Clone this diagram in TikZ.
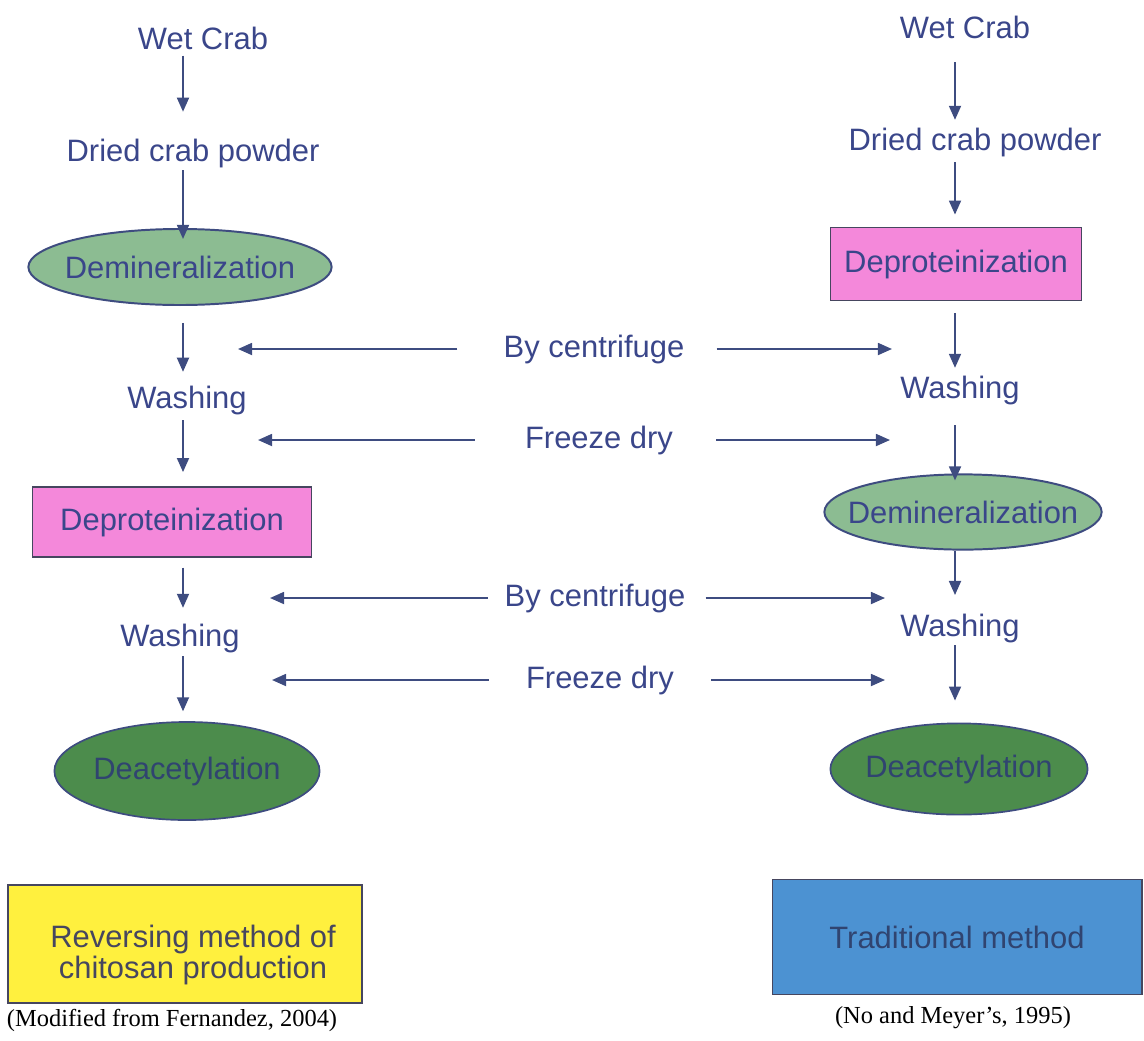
\documentclass[tikz,border=0pt]{standalone}
\usepackage{fontspec}
\setmainfont{Liberation Sans}
\newfontfamily\capfont{Liberation Serif}
\usepackage{xcolor}
\usetikzlibrary{arrows.meta}
\usetikzlibrary{shapes.geometric}
\usetikzlibrary{positioning}

\definecolor{inkblue}{RGB}{58,70,138}
\definecolor{arrowblue}{RGB}{62,76,128}
\definecolor{deepink}{RGB}{48,68,112}
\definecolor{palegreen}{RGB}{140,188,146}
\definecolor{darkgreen}{RGB}{76,140,76}
\definecolor{rosepink}{RGB}{244,136,218}
\definecolor{boxyellow}{RGB}{255,240,62}
\definecolor{boxblue}{RGB}{76,146,210}
\definecolor{rimgrey}{RGB}{70,70,95}

\tikzset{
  stage/.style={font=\fontsize{22}{26}\selectfont, text=inkblue, inner sep=0pt, anchor=base},
  demin/.style={ellipse, draw=arrowblue, line width=1.4pt, fill=palegreen,
    font=\fontsize{22}{26}\selectfont, text=inkblue, inner ysep=0pt, inner xsep=-20pt},
  deprot/.style={rectangle, draw=rimgrey, line width=1.2pt, fill=rosepink,
    font=\fontsize{22}{26}\selectfont, text=inkblue, inner sep=0pt},
  deacet/.style={ellipse, draw=arrowblue, line width=1.2pt, fill=darkgreen,
    font=\fontsize{22}{26}\selectfont, text=deepink, inner ysep=0pt, inner xsep=-20pt},
  legend/.style={rectangle, draw=rimgrey, line width=1.2pt, inner sep=0pt},
  legtext/.style={font=\fontsize{22}{21.5}\selectfont, align=center, inner sep=0pt},
  source/.style={font=\capfont\fontsize{17.4}{20}\selectfont, inner sep=0pt},
  flow/.style={draw=arrowblue, line width=1.4pt, -{Triangle[length=10pt,width=8.5pt]}}
}

\begin{document}
\begin{tikzpicture}[x=0.025cm, y=-0.025cm]
  \useasboundingbox (0,0) rectangle (1144,1040);

  % Column axes
  \coordinate (lx) at (183,0);
  \coordinate (rx) at (955,0);

  % Reversing method (left)
  \node[stage] (lwet) at (203,49) {Wet Crab};
  \node[stage] (ldry) at (193,161) {Dried crab powder};
  \node[demin, minimum width=7.58cm, minimum height=1.9cm] (ldem) at (180,267) {Demineralization};
  \node[stage] (lwash1) at (187,408) {Washing};
  \node[deprot, minimum width=6.98cm, minimum height=1.75cm] (ldep) at (172,522) {Deproteinization};
  \node[stage] (lwash2) at (180,646) {Washing};
  \node[deacet, minimum width=6.63cm, minimum height=2.45cm] (ldeac) at (187,771) {Deacetylation};

  % Traditional method (right)
  \node[stage] (rwet) at (965,38) {Wet Crab};
  \node[stage] (rdry) at (975,150) {Dried crab powder};
  \node[deprot, minimum width=6.28cm, minimum height=1.83cm] (rdep) at (956,264) {Deproteinization};
  \node[stage] (rwash1) at (960,398) {Washing};
  \node[demin, minimum width=6.93cm, minimum height=1.88cm] (rdem) at (963,512) {Demineralization};
  \node[stage] (rwash2) at (960,636) {Washing};
  \node[deacet, minimum width=6.43cm, minimum height=2.28cm] (rdeac) at (959,769) {Deacetylation};

  % Vertical arrows
  \foreach \a/\b/\s/\e in {lwet/ldry/4.3/18.9, ldry/ldem/1.8/-7.8, ldem/lwash1/12/9.6,
      lwash1/ldep/4/10, ldep/lwash2/7/11, lwash2/ldeac/2.5/7}
    \draw[flow, shorten <=\s pt, shorten >=\e pt] (\a.south -| lx) -- (\b.north -| lx);
  \foreach \a/\b/\s/\e in {rwet/rdry/17/5.3, rdry/rdep/4/8.5, rdep/rwash1/8.5/5.3,
      rwash1/rdem/14.6/-5, rdem/rwash2/0/13, rwash2/rdeac/1.8/15.6}
    \draw[flow, shorten <=\s pt, shorten >=\e pt] (\a.south -| rx) -- (\b.north -| rx);

  % Shared steps
  \node[stage] (cent1) at (594,357) {By centrifuge};
  \node[stage] (dry1) at (599,448) {Freeze dry};
  \node[stage] (cent2) at (595,606) {By centrifuge};
  \node[stage] (dry2) at (600,688) {Freeze dry};

  \coordinate (cent1l) at (238,0);  \coordinate (cent1r) at (892,0);
  \coordinate (dry1l) at (258,0);   \coordinate (dry1r) at (890,0);
  \coordinate (cent2l) at (270,0);  \coordinate (cent2r) at (885,0);
  \coordinate (dry2l) at (272,0);   \coordinate (dry2r) at (885,0);

  \foreach \n/\s/\t in {cent1/32.7/22.8, dry1/35.6/30.6, cent2/12/14.2, dry2/26.3/26.3} {
    \draw[flow, shorten <=\s pt] (\n.west) -- (\n.west -| \n l);
    \draw[flow, shorten <=\t pt] (\n.east) -- (\n.east -| \n r);
  }

  % Legends
  \node[legend, fill=boxyellow, minimum width=8.85cm, minimum height=2.95cm] (lkey) at (185,944) {};
  \node[legtext, text=rimgrey] (lkeytext) at (193,955) {Reversing method of\\chitosan production};
  \node[legend, fill=boxblue, minimum width=9.23cm, minimum height=2.88cm, text=deepink,
    font=\fontsize{22}{26}\selectfont] (rkey) at (957,937) {Traditional method};
  \node[source] (lsrc) at (172,1020) {(Modified from Fernandez, 2004)};
  \node[source] (rsrc) at (953,1018) {(No and Meyer’s, 1995)};
\end{tikzpicture}
\end{document}
